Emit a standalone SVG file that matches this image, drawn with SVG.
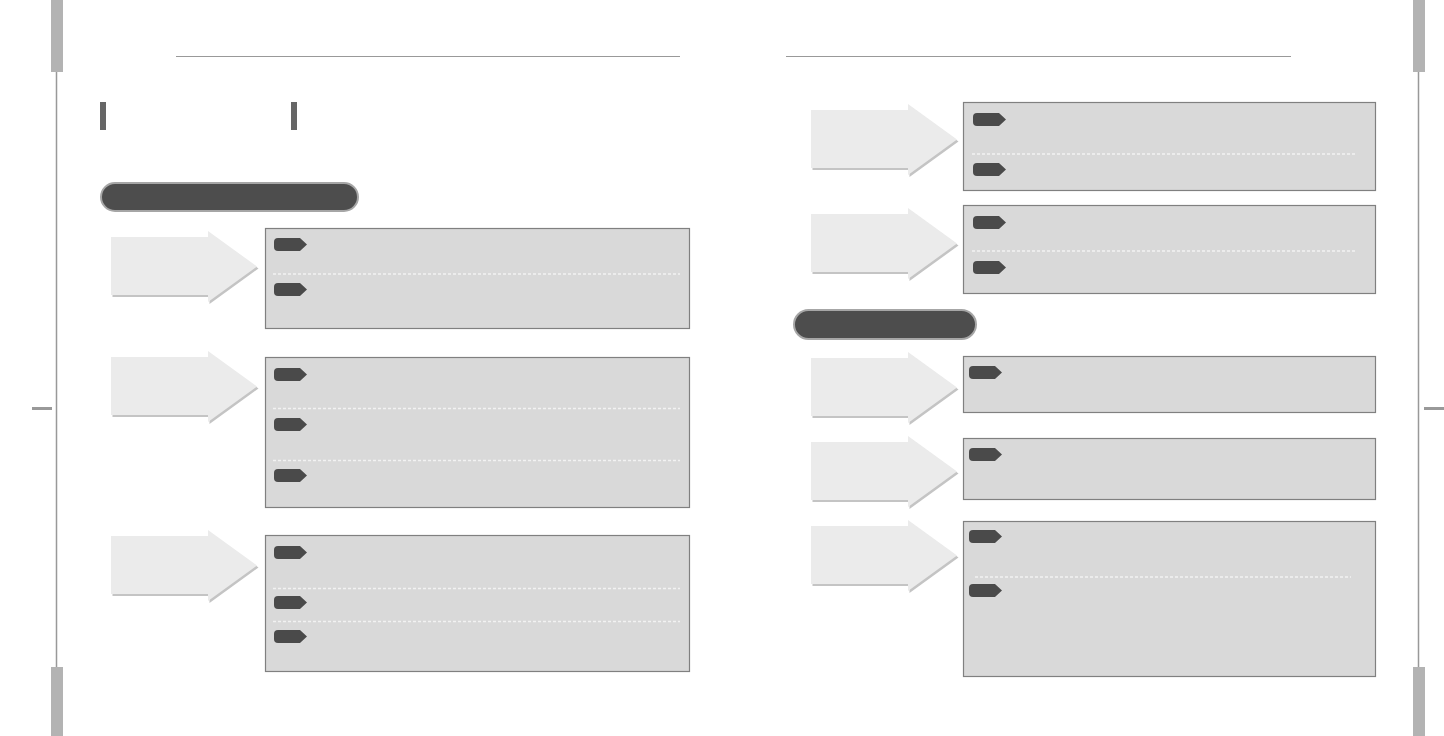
<svg xmlns="http://www.w3.org/2000/svg" width="1444" height="736" viewBox="0 0 1444 736">
<style>
.bar{fill:#b3b3b3}
.side{stroke:#999;stroke-width:1.5;fill:none}
.tick{fill:#999}
.hdr{stroke:#999;stroke-width:1;fill:none}
.mark{fill:#666}
.pill{fill:#4d4d4d;stroke:#a6a6a6;stroke-width:2}
.box{fill:#d9d9d9;stroke:#808080;stroke-width:1.2}
.dot{stroke:#f2f2f2;stroke-width:1.5;stroke-dasharray:3 2;fill:none}
.tag{fill:#4a4a4a}
.arr{fill:#ebebeb}
.arrs{fill:#c4c4c4}
</style>
<defs>
<path id="arrow" d="M0,6 H97 V0 L146,35.5 L97,71 V64 H0 Z"/>
<path id="tagp" d="M4,0 H26 L33,6.5 L26,13 H4 Q0,13 0,9 V4 Q0,0 4,0 Z"/>
<g id="arrowg"><use href="#arrow" class="arrs" x="1.5" y="2"/><use href="#arrow" class="arr"/></g>
</defs>
<g id="frame">
<rect class="bar" x="51" y="0" width="12" height="72"/>
<rect class="bar" x="51" y="667" width="12" height="69"/>
<line class="side" x1="56.5" y1="72" x2="56.5" y2="667"/>
<rect class="tick" x="32" y="407" width="20" height="3"/>
<rect class="bar" x="1413" y="0" width="12" height="72"/>
<rect class="bar" x="1413" y="667" width="12" height="69"/>
<line class="side" x1="1418.5" y1="72" x2="1418.5" y2="667"/>
<rect class="tick" x="1424" y="407" width="20" height="3"/>
<line class="hdr" x1="176" y1="56.5" x2="680" y2="56.5"/>
<line class="hdr" x1="786" y1="56.5" x2="1291" y2="56.5"/>
<rect class="mark" x="100" y="102" width="6" height="28"/>
<rect class="mark" x="291" y="102" width="6" height="28"/>
</g>
<g id="section1"><rect class="pill" x="101" y="183" width="257" height="28" rx="14"/></g>
<g id="section2"><rect class="pill" x="794" y="310" width="182" height="29" rx="14.5"/></g>
<g id="arrows">
<use href="#arrowg" x="111" y="231"/>
<use href="#arrowg" x="111" y="351"/>
<use href="#arrowg" x="111" y="530"/>
<use href="#arrowg" x="811" y="104"/>
<use href="#arrowg" x="811" y="208"/>
<use href="#arrowg" x="811" y="352"/>
<use href="#arrowg" x="811" y="436"/>
<use href="#arrowg" x="811" y="520"/>
</g>
<g id="box-l1">
<rect class="box" x="265.5" y="228.5" width="424" height="100"/>
<line class="dot" x1="273" y1="274" x2="680" y2="274"/>
<use href="#tagp" class="tag" x="274" y="238"/>
<use href="#tagp" class="tag" x="274" y="283"/>
</g>
<g id="box-l2">
<rect class="box" x="265.5" y="357.5" width="424" height="150"/>
<line class="dot" x1="273" y1="408.5" x2="680" y2="408.5"/>
<line class="dot" x1="273" y1="460.5" x2="680" y2="460.5"/>
<use href="#tagp" class="tag" x="274" y="368"/>
<use href="#tagp" class="tag" x="274" y="418"/>
<use href="#tagp" class="tag" x="274" y="469"/>
</g>
<g id="box-l3">
<rect class="box" x="265.5" y="535.5" width="424" height="136"/>
<line class="dot" x1="273" y1="588.5" x2="680" y2="588.5"/>
<line class="dot" x1="273" y1="621.5" x2="680" y2="621.5"/>
<use href="#tagp" class="tag" x="274" y="546"/>
<use href="#tagp" class="tag" x="274" y="596"/>
<use href="#tagp" class="tag" x="274" y="630"/>
</g>
<g id="box-r1">
<rect class="box" x="963.5" y="102.5" width="412" height="88"/>
<line class="dot" x1="972" y1="154" x2="1356" y2="154"/>
<use href="#tagp" class="tag" x="973" y="113"/>
<use href="#tagp" class="tag" x="973" y="163"/>
</g>
<g id="box-r2">
<rect class="box" x="963.5" y="205.5" width="412" height="88"/>
<line class="dot" x1="972" y1="251" x2="1357" y2="251"/>
<use href="#tagp" class="tag" x="973" y="216"/>
<use href="#tagp" class="tag" x="973" y="261"/>
</g>
<g id="box-r3">
<rect class="box" x="963.5" y="356.5" width="412" height="56"/>
<use href="#tagp" class="tag" x="969" y="366"/>
</g>
<g id="box-r4">
<rect class="box" x="963.5" y="438.5" width="412" height="61"/>
<use href="#tagp" class="tag" x="969" y="448"/>
</g>
<g id="box-r5">
<rect class="box" x="963.5" y="521.5" width="412" height="155"/>
<line class="dot" x1="975" y1="577" x2="1351" y2="577"/>
<use href="#tagp" class="tag" x="969" y="530"/>
<use href="#tagp" class="tag" x="969" y="584"/>
</g>
</svg>
